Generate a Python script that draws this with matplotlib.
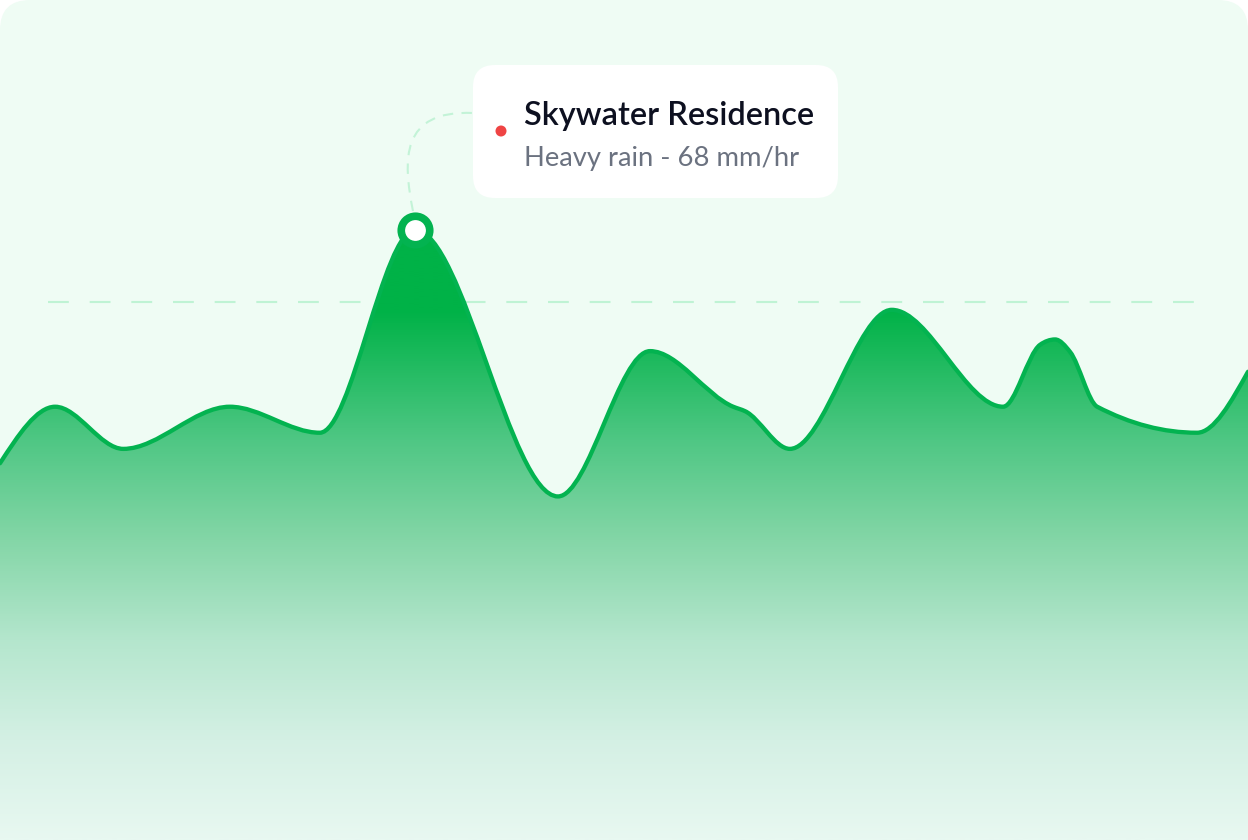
#! /usr/bin/env python
'''
    Rainfall intensity area chart with a tooltip at the peak.
'''

import numpy as np
import matplotlib
matplotlib.use('Agg')
import matplotlib.pyplot as plt
from matplotlib.path import Path
from matplotlib.patches import PathPatch, FancyBboxPatch, Circle
from matplotlib.colors import LinearSegmentedColormap

# rainfall readings (hour of day, mm/hr)
hours = [0.0, 1.06, 2.37, 4.42, 6.15, 7.98, 10.73, 12.5, 14.1, 14.33,
         15.19, 17.15, 19.29, 20.0, 20.29, 20.58, 21.1, 23.02, 24.0]
rain = [42.0, 48.3, 43.6, 48.3, 45.4, 68.0, 38.3, 54.5, 48.3, 47.8,
        43.6, 59.1, 48.3, 55.2, 55.8, 54.4, 48.3, 45.4, 52.2]
threshold = 60
station = 'Skywater Residence'
label = 'Heavy rain - {} mm/hr'

W, H = 1248, 840
YTOP = 93.64

LINE = '#03b350'
CARD = '#effcf4'


def monotone_path(x, y, close_to=None):
    '''Monotone cubic (d3 curveMonotoneX style) drawn as bezier path.'''
    x = np.asarray(x, float)
    y = np.asarray(y, float)
    n = len(x)
    h = np.diff(x)
    s = np.diff(y) / h
    t = np.zeros(n)
    for i in range(1, n - 1):
        p = (s[i - 1] * h[i] + s[i] * h[i - 1]) / (h[i - 1] + h[i])
        t[i] = (np.sign(s[i - 1]) + np.sign(s[i])) * min(
            abs(s[i - 1]), abs(s[i]), 0.5 * abs(p))
    t[0] = (3 * s[0] - t[1]) / 2
    t[-1] = (3 * s[-1] - t[-2]) / 2

    verts, codes = [], []
    if close_to is not None:
        verts.append((x[0], close_to))
        codes.append(Path.MOVETO)
        verts.append((x[0], y[0]))
        codes.append(Path.LINETO)
    else:
        verts.append((x[0], y[0]))
        codes.append(Path.MOVETO)
    for i in range(n - 1):
        dx = h[i] / 3
        verts += [(x[i] + dx, y[i] + dx * t[i]),
                  (x[i + 1] - dx, y[i + 1] - dx * t[i + 1]),
                  (x[i + 1], y[i + 1])]
        codes += [Path.CURVE4] * 3
    if close_to is not None:
        verts.append((x[-1], close_to))
        codes.append(Path.LINETO)
        verts.append((x[0], close_to))
        codes.append(Path.CLOSEPOLY)
    return Path(verts, codes)


fig = plt.figure(figsize=(W / 100, H / 100), dpi=100)
fig.patch.set_facecolor('white')

# card background
bg = fig.add_axes([0, 0, 1, 1])
bg.set_xlim(0, W)
bg.set_ylim(H, 0)
bg.axis('off')
bg.add_patch(FancyBboxPatch((0, 0), W, H + 60,
                            boxstyle='round,pad=0,rounding_size=30',
                            fc=CARD, ec='none'))

ax = fig.add_axes([0, 0, 1, 1])
ax.patch.set_alpha(0)
ax.set_xlim(hours[0], hours[-1])
ax.set_ylim(0, YTOP)
ax.axis('off')

# threshold line (sits behind the area)
ax.axhline(threshold, xmin=48 / W, xmax=1200 / W, color='#bff3d4',
           lw=1.5, dashes=(10, 10), zorder=0.5)

# gradient fill under the curve
grad = LinearSegmentedColormap.from_list('rain', [
    (0.0, '#00b247'),
    ((310 - 230) / 610, '#00b247'),
    ((440 - 230) / 610, '#4fc784'),
    ((540 - 230) / 610, '#84d6a7'),
    ((640 - 230) / 610, '#b4e6cd'),
    ((740 - 230) / 610, '#d4f0e4'),
    (1.0, '#e8f8f1')])
img = ax.imshow(np.linspace(0, 1, 512).reshape(-1, 1), cmap=grad,
                aspect='auto', extent=(hours[0], hours[-1], 0, max(rain)),
                origin='upper', zorder=1, interpolation='bilinear')
area = PathPatch(monotone_path(hours, rain, close_to=0),
                 transform=ax.transData, fc='none', ec='none')
ax.add_patch(area)
img.set_clip_path(area)

ax.add_patch(PathPatch(monotone_path(hours, rain), fc='none', ec=LINE,
                       lw=3.1, capstyle='round', joinstyle='round', zorder=3))

# peak marker
ipk = int(np.argmax(rain))
ax.plot(hours[ipk], rain[ipk], 'o', ms=20.5, mfc='white', mec=LINE,
        mew=5.5, zorder=5, clip_on=False)

# tooltip in pixel coordinates
ov = fig.add_axes([0, 0, 1, 1])
ov.patch.set_alpha(0)
ov.set_xlim(0, W)
ov.set_ylim(H, 0)
ov.axis('off')

px, py = ax.transData.transform((hours[ipk], rain[ipk]))
py = H - py
bx, by, bw, bh = 473, 65, 365, 133
conn = Path([(px - 2, py - 19), (px - 12, py - 70), (px - 15, by + 45),
             (bx, by + 48)],
            [Path.MOVETO, Path.CURVE4, Path.CURVE4, Path.CURVE4])
ov.add_patch(PathPatch(conn, fc='none', ec='#c3f3d7', lw=1.5,
                       ls=(0, (5, 4)), zorder=4))

ov.add_patch(FancyBboxPatch((bx, by), bw, bh,
                            boxstyle='round,pad=0,rounding_size=22',
                            fc='white', ec='none', zorder=6))
ov.add_patch(Circle((bx + 28, by + 66), 5.5, fc='#ef4444', ec='none',
                    zorder=7))
ov.text(bx + 51, by + 60, station, fontsize=23.4, fontweight='semibold',
        family=['Lato', 'DejaVu Sans'], color='#0d1020', va='baseline',
        zorder=7)
ov.text(bx + 51, by + 101, label.format(int(rain[ipk])), fontsize=19.7,
        family=['Lato', 'DejaVu Sans'], color='#6b7280', va='baseline',
        zorder=7)

fig.savefig('out.png', dpi=100)
plt.close(fig)
